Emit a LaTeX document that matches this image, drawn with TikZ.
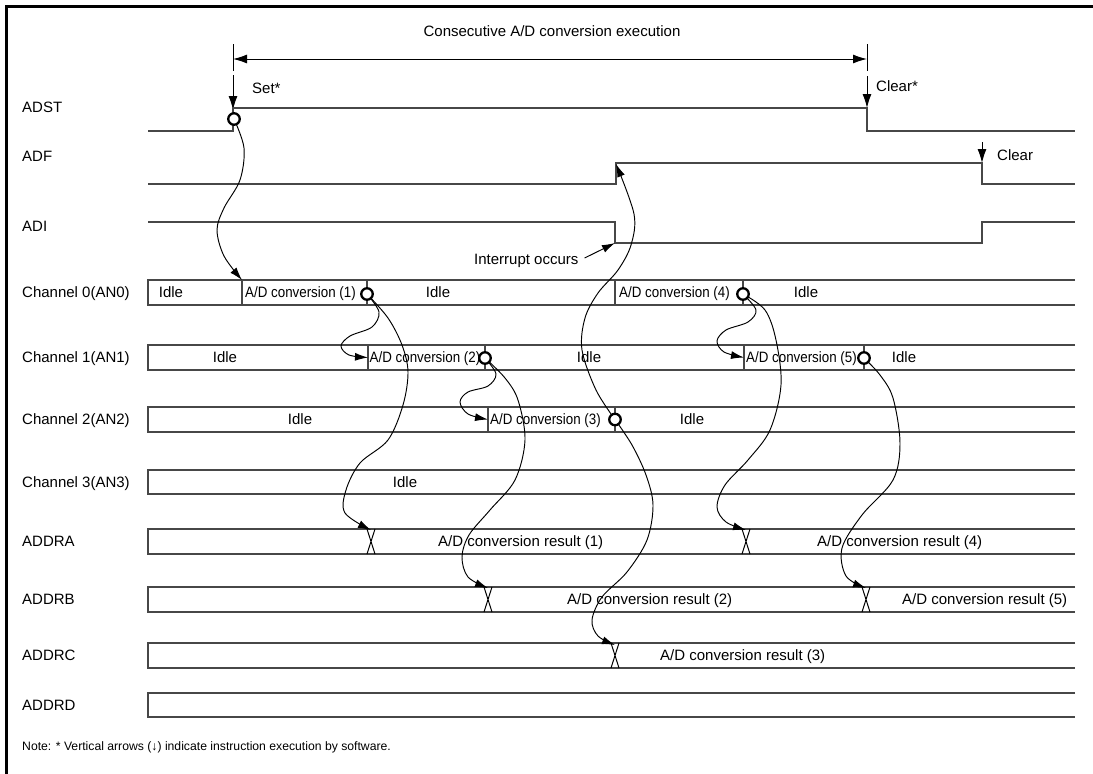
\documentclass[tikz,border=0pt]{standalone}
\usepackage{fontspec}
\setmainfont{Liberation Sans}
\newfontfamily\condfont[FakeStretch=0.89]{Liberation Sans}
\usetikzlibrary{arrows.meta}
\begin{document}
\begin{tikzpicture}[x=1pt,y=-1pt,
  t/.style={inner sep=0pt, text height=10.7pt, text depth=0pt, font=\fontsize{15}{18}\selectfont},
  tw/.style={t, anchor=west},
  cv/.style={tw, font=\condfont\fontsize{15}{18}\selectfont},
  sig/.style={line width=1.4pt, draw=black!72},
  bus/.style={line width=1.3pt, draw=black!72},
  conn/.style={line width=0.95pt, -{Latex[length=13pt,width=8pt]}},
  bigarrow/.style={line width=1pt, -{Latex[length=14pt,width=9pt]}},
  ring/.style={circle, draw, line width=2.3pt, fill=white, minimum size=11.5pt, inner sep=0pt},
  framestyle/.style={line width=3pt}]
\useasboundingbox (0,0) rectangle (1093,774);
\draw[framestyle] (6.7,774) -- (6.7,6.7) -- (1093,6.7);

% ---- labels
\node[tw] (lADST) at (22,107) {ADST};
\node[tw] (lADF) at (22,156) {ADF};
\node[tw] (lADI) at (22,226) {ADI};
\node[tw] (lC0) at (22,292.5) {Channel 0(AN0)};
\node[tw] (lC1) at (22,357.5) {Channel 1(AN1)};
\node[tw] (lC2) at (22,419.5) {Channel 2(AN2)};
\node[tw] (lC3) at (22,482) {Channel 3(AN3)};
\node[tw] (lA) at (22,541.5) {ADDRA};
\node[tw] (lB) at (22,599.5) {ADDRB};
\node[tw] (lC) at (22,655.5) {ADDRC};
\node[tw] (lD) at (22,705) {ADDRD};
\node[anchor=west, inner sep=0pt, font=\fontsize{12.2}{14}\selectfont] (note) at (22,747) {Note: * Vertical arrows (↓) indicate instruction execution by software.};

% ---- title and dimension
\node[t] (title) at (552,31) {Consecutive A/D conversion execution};
\coordinate (dL) at (233,59);
\coordinate (dR) at (867,59);
\draw[line width=1pt, {Latex[length=14pt,width=9pt]}-{Latex[length=14pt,width=9pt]}] (dL) -- (dR);
\draw[line width=1pt] (233,44) -- (233,71) (867,44) -- (867,71);

% ---- software arrows
\coordinate (setT) at (233,75);
\coordinate (setB) at (233,110);
\coordinate (clrT) at (867,76);
\coordinate (clrB) at (867,108);
\coordinate (clr2T) at (982,142);
\coordinate (clr2B) at (982,163);
\draw[bigarrow] (setT) -- (setB);
\draw[bigarrow] (clrT) -- (clrB);
\draw[bigarrow] (clr2T) -- (clr2B);
\node[tw] (set) at (252,88) {Set*};
\node[tw] (clr) at (876,86) {Clear*};
\node[tw] (clr2) at (997,155) {Clear};

% ---- signals
\draw[sig] (148,131) -- (233,131) -- (233,108) -- (867,108) -- (867,131) -- (1075,131);
\draw[sig] (148,184) -- (616,184) -- (616,163) -- (982,163) -- (982,184) -- (1075,184);
\draw[sig] (148,222) -- (615,222) -- (615,243) -- (982,243) -- (982,222) -- (1075,222);

% ---- bus rows
\foreach \tp/\bt in {280/305, 345/370, 407/432, 470/494, 529/554, 587/612, 643/668, 693/717}
  \draw[bus] (1075,\tp) -- (148,\tp) -- (148,\bt) -- (1075,\bt);
\foreach \x/\tp/\bt in {242/280/305, 367/280/305, 615/280/305, 743/280/305,
                        368/345/370, 485/345/370, 744/345/370, 864/345/370,
                        488/407/432, 615/407/432}
  \draw[bus] (\x,\tp) -- (\x,\bt);
\foreach \x/\tp/\bt in {371/529/554, 746/529/554, 488/587/612, 866/587/612, 615/643/668}
  \draw[line width=1pt] (\x-4,\tp) -- (\x+4,\bt) (\x+4,\tp) -- (\x-4,\bt);

% ---- bus texts
\node[t] (i00) at (171,292.5) {Idle};
\node[cv] (a1) at (245,292.5) {A/D conversion (1)};
\node[t] (i01) at (438,292.5) {Idle};
\node[cv] (a4) at (619,292.5) {A/D conversion (4)};
\node[t] (i02) at (806,292.5) {Idle};
\node[t] (i10) at (225,357.5) {Idle};
\node[cv] (a2) at (369.5,357.5) {A/D conversion (2)};
\node[t] (i11) at (589,357.5) {Idle};
\node[cv] (a5) at (746,357.5) {A/D conversion (5)};
\node[t] (i12) at (904,357.5) {Idle};
\node[t] (i20) at (300,419.5) {Idle};
\node[cv] (a3) at (490,419.5) {A/D conversion (3)};
\node[t] (i21) at (692,419.5) {Idle};
\node[t] (i30) at (405,482) {Idle};
\node[tw] (r1) at (438,541.5) {A/D conversion result (1)};
\node[tw] (r4) at (817,541.5) {A/D conversion result (4)};
\node[tw] (r2) at (567,599.5) {A/D conversion result (2)};
\node[tw] (r5) at (902,599.5) {A/D conversion result (5)};
\node[tw] (r3) at (660,655.5) {A/D conversion result (3)};

% ---- key points
\coordinate (cS) at (234,119);
\coordinate (c1) at (367,294);
\coordinate (c4) at (743,294);
\coordinate (c2) at (485,358);
\coordinate (c5) at (864,358);
\coordinate (c3) at (615,419.5);
\coordinate (d0) at (242,280);
\coordinate (d1a) at (368,357.5);
\coordinate (d1b) at (744,357.5);
\coordinate (d2) at (488,419.5);
\coordinate (xA1) at (371,530);
\coordinate (xA4) at (746,530);
\coordinate (xB2) at (488,588);
\coordinate (xB5) at (866,588);
\coordinate (xC3) at (615,645);
\coordinate (adfR) at (616,164);
\coordinate (adiF) at (615,243);

% ---- interrupt
\node[tw] (intr) at (474,259) {Interrupt occurs};
\draw[conn] ([xshift=6pt,yshift=1pt]intr.east) -- (adiF);

% ---- curved connectors
\draw[conn] plot[smooth,tension=0.55] coordinates {(cS) (244,148) (240,180) (224,208) (217,230) (224,256) (d0)};
\draw[conn] plot[smooth,tension=0.55] coordinates {(c1) (379,312) (372,327) (350,336) (341,346) (349,355) (d1a)};
\draw[conn] plot[smooth,tension=0.55] coordinates {(c1) (388,318) (402,345) (408,372) (403,405) (388,440) (360,463) (346,490) (345,513) (xA1)};
\draw[conn] plot[smooth,tension=0.55] coordinates {(c2) (496,374) (488,386) (468,392) (460,402) (468,414) (d2)};
\draw[conn] plot[smooth,tension=0.55] coordinates {(c2) (505,378) (518,400) (525,440) (515,480) (490,510) (469,535) (462,557) (468,577) (xB2)};
\draw[conn] plot[smooth,tension=0.55] coordinates {(c3) (596,390) (582,350) (585,318) (598,293) (618,270) (631,245) (634,214) (adfR)};
\draw[conn] plot[smooth,tension=0.55] coordinates {(c3) (632,445) (646,475) (653,505) (647,540) (627,572) (602,597) (592,620) (598,636) (xC3)};
\draw[conn] plot[smooth,tension=0.55] coordinates {(c4) (756,310) (748,322) (726,330) (717,341) (724,352) (d1b)};
\draw[conn] plot[smooth,tension=0.55] coordinates {(c4) (765,310) (776,340) (781,385) (770,430) (748,460) (725,485) (717,507) (726,522) (xA4)};
\draw[conn] plot[smooth,tension=0.55] coordinates {(c5) (880,375) (893,398) (900,443) (893,480) (862,515) (842,548) (846,576) (xB5)};

% ---- rings
\node[ring] (rS) at (cS) {};
\node[ring] (r1c) at (c1) {};
\node[ring] (r2c) at (c2) {};
\node[ring] (r3c) at (c3) {};
\node[ring] (r4c) at (c4) {};
\node[ring] (r5c) at (c5) {};
\end{tikzpicture}
\end{document}
